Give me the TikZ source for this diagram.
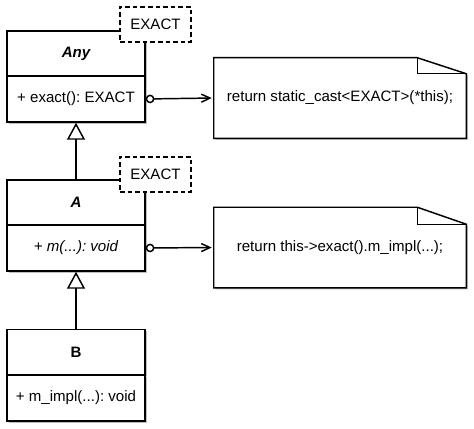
\documentclass[tikz,border=0pt]{standalone}
\usepackage{fontspec}
\setmainfont{Liberation Sans}
\usetikzlibrary{arrows.meta,shadows,calc}
\frenchspacing
\tikzset{
  sh/.style={drop shadow={shadow xshift=1.2pt, shadow yshift=-1.2pt, fill=black, opacity=0.25}},
  txt/.style={font=\fontsize{11.3}{13}\selectfont\frenchspacing},
  part/.style={draw, line width=1.1pt, fill=white, minimum width=138*0.75pt, inner sep=0pt, txt},
  hdr/.style={part, minimum height=45*0.75pt},
  body/.style={part, minimum height=46*0.75pt},
  tparam/.style={draw, line width=1pt, dash pattern=on 3.5pt off 2.2pt, fill=white, minimum width=71*0.75pt, minimum height=35*0.75pt, inner sep=0pt, txt},
  notebox/.style={minimum width=252*0.75pt, minimum height=80*0.75pt, inner sep=0pt, txt},
  noteline/.style={draw, line width=1.1pt, fill=white, line join=miter},
  assoc/.style={line width=1.1pt, {Circle[open,length=6.5pt,width=6.5pt,line width=1.1pt]}-{Straight Barb[length=6.5pt,width=6pt,line width=1.1pt]}, shorten >=1.5pt},
  inherit/.style={line width=1.1pt, -{Triangle[open,length=12.75pt,width=13.5pt,line width=1.1pt]}}
}
\begin{document}
\begin{tikzpicture}[x=0.75pt,y=-0.75pt]
\useasboundingbox (0,0) rectangle (474,428);
% class Any
\node[hdr,sh] (anyT) at (76,53.5) {\bfseries\itshape Any};
\node[body,sh] (anyB) at (76,99) {+ exact(): EXACT};
\node[hdr] at (76,53.5) {\bfseries\itshape Any};
\node[tparam] (ex1) at (155.5,24.5) {EXACT};
% class A
\node[hdr,sh] (aT) at (76,202.5) {\bfseries\itshape A};
\node[body,sh] (aB) at (76,248) {\itshape + m(...): void};
\node[hdr] at (76,202.5) {\bfseries\itshape A};
\node[tparam] (ex2) at (155.5,174.5) {EXACT};
% class B
\node[hdr,sh] (bT) at (76,352) {\bfseries B};
\node[body,sh] (bB) at (76,398) {+ m\_impl(...): void};
\node[hdr] at (76,352) {\bfseries B};
% notes
\node[notebox] (n1) at (340,98) {};
\path[noteline,sh] (n1.south west) -- (n1.north west) -- ($(n1.north east)+(-49,0)$) -- ($(n1.north east)+(0,16)$) -- (n1.south east) -- cycle;
\draw[line width=1.1pt] ($(n1.north east)+(-49,0)$) -- ($(n1.north east)+(-49,16)$) -- ($(n1.north east)+(0,16)$);
\node[notebox] at (n1.center) {return static\_cast<EXACT>(*this);};
\node[notebox] (n2) at (340,247.5) {};
\path[noteline,sh] (n2.south west) -- (n2.north west) -- ($(n2.north east)+(-49,0)$) -- ($(n2.north east)+(0,17)$) -- (n2.south east) -- cycle;
\draw[line width=1.1pt] ($(n2.north east)+(-49,0)$) -- ($(n2.north east)+(-49,17)$) -- ($(n2.north east)+(0,17)$);
\node[notebox] at (n2.center) {return this->exact().m\_impl(...);};
% connectors
\draw[assoc] (anyB.east) -- (n1.west);
\draw[assoc] (aB.east) -- (n2.west);
\draw[inherit] (aT.north) -- (anyB.south);
\draw[inherit] (bT.north) -- (aB.south);
\end{tikzpicture}
\end{document}
